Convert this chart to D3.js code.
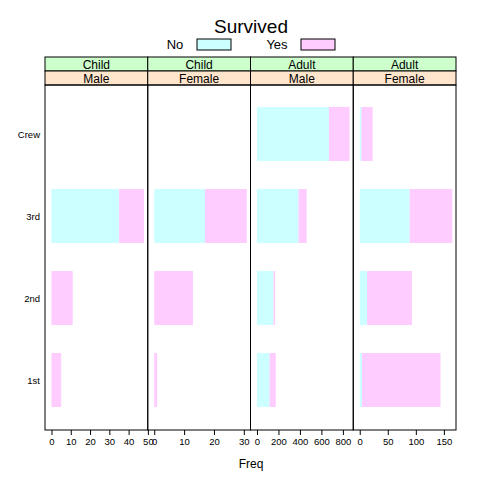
<!DOCTYPE html><html><head><script src="https://cdn.jsdelivr.net/npm/d3@7"></script>
<style>body{margin:0}text{font-family:"Liberation Sans",Arial,sans-serif}</style></head><body>
<script>
const classes=["1st","2nd","3rd","Crew"];
const panels=[{age:"Child",sex:"Male"},{age:"Child",sex:"Female"},{age:"Adult",sex:"Male"},{age:"Adult",sex:"Female"}];
const noVals=[[0,0,35,0],[0,0,17,0],[118,154,387,670],[4,13,89,3]];
const yesVals=[[5,11,13,0],[1,13,14,0],[57,14,75,192],[140,80,76,20]];
const ticks=[[0,10,20,30,40,50],[0,10,20,30],[0,200,400,600,800],[0,50,100,150]];
const W=480,H=480,L=45,R=456,T=57,PT=85,PB=430;
const svg=d3.select("body").append("svg").attr("width",W).attr("height",H);
svg.append("text").attr("x",251).attr("y",33).attr("text-anchor","middle").attr("font-size",19).text("Survived");
[["No",175,197,"#ccffff"],["Yes",277,301,"#ffccff"]].forEach(([t,tx,rx,c])=>{
 svg.append("text").attr("x",tx).attr("y",49).attr("text-anchor","middle").attr("font-size",13).text(t);
 svg.append("rect").attr("x",rx).attr("y",39).attr("width",34).attr("height",11).attr("fill",c).attr("stroke","black");
});
const pw=(R-L)/4;
const y=d3.scalePoint().domain(classes).range([380,134]);
classes.forEach(c=>svg.append("text").attr("x",40).attr("y",y(c)+4).attr("text-anchor","end").attr("font-size",9.5).text(c));
panels.forEach((p,i)=>{
 const x0=L+i*pw,x1=x0+pw;
 const mx=d3.max(classes.map((c,j)=>noVals[i][j]+yesVals[i][j]));
 const x=d3.scaleLinear().domain([-0.07*mx,1.04*mx]).range([x0,x1]);
 const g=svg.append("g");
 classes.forEach((c,j)=>{
  const n=noVals[i][j],s=yesVals[i][j];
  g.append("rect").attr("x",x(0)).attr("width",x(n)-x(0)).attr("y",y(c)-27).attr("height",54).attr("fill","#ccffff");
  g.append("rect").attr("x",x(n)).attr("width",x(n+s)-x(n)).attr("y",y(c)-27).attr("height",54).attr("fill","#ffccff");
 });
 g.append("rect").attr("x",x0).attr("y",T).attr("width",pw).attr("height",14).attr("fill","#ccffcc").attr("stroke","black");
 g.append("rect").attr("x",x0).attr("y",T+14).attr("width",pw).attr("height",14).attr("fill","#ffe5cc").attr("stroke","black");
 g.append("text").attr("x",(x0+x1)/2).attr("y",T+11.5).attr("text-anchor","middle").attr("font-size",12).text(p.age);
 g.append("text").attr("x",(x0+x1)/2).attr("y",T+25.5).attr("text-anchor","middle").attr("font-size",12).text(p.sex);
 g.append("rect").attr("x",x0).attr("y",PT).attr("width",pw).attr("height",PB-PT).attr("fill","none").attr("stroke","black");
 const ax=svg.append("g").attr("transform",`translate(0,${PB})`).call(d3.axisBottom(x).tickValues(ticks[i]).tickSize(5).tickSizeOuter(0));
 ax.select(".domain").remove();
 ax.selectAll("text").attr("font-size",9.5).attr("font-family","Liberation Sans, Arial");
});
svg.append("text").attr("x",251).attr("y",468).attr("text-anchor","middle").attr("font-size",12).text("Freq");
</script></body></html>
